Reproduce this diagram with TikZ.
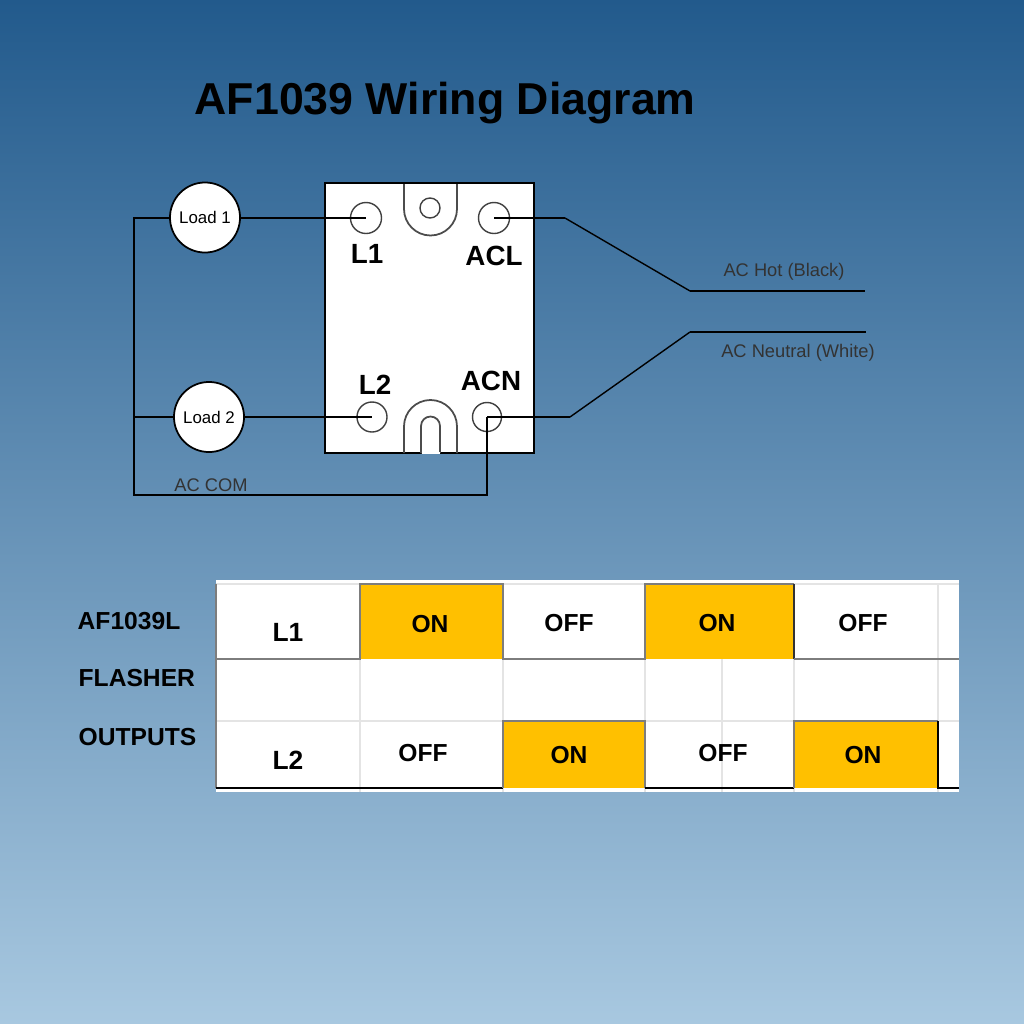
\documentclass[tikz,border=0pt]{standalone}
\usepackage{fontspec}
\setmainfont{Liberation Sans}
\usepackage{tikz}
\usetikzlibrary{calc,positioning}
\definecolor{skytop}{RGB}{34,90,140}
\definecolor{skymid}{RGB}{88,138,178}
\definecolor{skybottom}{RGB}{168,200,224}
\definecolor{myamber}{RGB}{255,192,0}
\definecolor{mygrid}{RGB}{228,228,228}
\definecolor{mystep}{RGB}{125,125,125}
\newcommand{\fsize}[1]{\fontsize{#1}{#1}\selectfont}
\tikzstyle{load}=[draw,fill=white,circle,minimum size=0.7cm,inner sep=0pt,line width=0.5pt,font=\fsize{4.8}]
\tikzstyle{terminal}=[draw=black!75,circle,inner sep=0pt,line width=0.4pt]
\tikzstyle{pin}=[font=\bfseries\fsize{7.9}]
\tikzstyle{rowname}=[font=\bfseries\fsize{7.5}]
\tikzstyle{wire}=[line width=0.55pt]
\tikzstyle{thinwire}=[line width=0.4pt]
\tikzstyle{side}=[font=\bfseries\fsize{7},anchor=west,inner sep=0pt]
\tikzstyle{state}=[font=\bfseries\fsize{7}]
\tikzstyle{oncell}=[fill=myamber,inner sep=0pt]
\tikzstyle{caption}=[font=\fsize{5.2},text=black!80]
\begin{document}
\begin{tikzpicture}[x=0.01cm,y=-0.01cm]
\shade[top color=skytop,middle color=skymid,bottom color=skybottom] (0,0) rectangle (1024,1024);
\draw (194,103) node [anchor=west,inner sep=0pt,font=\bfseries\fsize{12.7}] (title) {AF1039 Wiring Diagram};
% module
\draw (429.5,318) node [draw,fill=white,minimum width=2.09cm,minimum height=2.7cm,inner sep=0pt,line width=0.5pt] (module) {};
\draw[draw=black!70,line width=0.5pt] (404,184) -- (404,209) arc[start angle=180,end angle=0,radius=26.5] -- (457,184);
\draw (430,208) node [terminal,minimum size=0.2cm] (hole) {};
\draw[draw=black!70,line width=0.5pt] (404,453) -- (404,426.5) arc[start angle=180,end angle=360,radius=26.5] -- (457,453);
\draw[draw=black!70,line width=0.5pt,fill=white] (421,453) -- (421,426) arc[start angle=180,end angle=360,radius=9.5] -- (440,453);
\draw[white,line width=0.6pt] (421.5,453) -- (439.5,453);
\draw (366,218) node [terminal,minimum size=0.31cm] (l1) {};
\draw (494,218) node [terminal,minimum size=0.31cm] (acl) {};
\draw (372,417) node [terminal,minimum size=0.3cm] (l2) {};
\draw (487,417) node [terminal,minimum size=0.29cm] (acn) {};
\draw (367,254) node [pin] (l1text) {L1};
\draw (494,256) node [pin] (acltext) {ACL};
\draw (375,385) node [pin] (l2text) {L2};
\draw (491,381) node [pin] (acntext) {ACN};
% loads
\draw (205,217.5) node [load] (load1) {Load 1};
\draw (209,417) node [load] (load2) {Load 2};
\coordinate (busl1) at (134,218);
\coordinate (busl2) at (134,417);
\coordinate (buscom) at (134,495);
\coordinate (accom) at (487,495);
\coordinate (hot1) at (565,218);
\coordinate (hot2) at (690,291);
\coordinate (hot3) at (865,291);
\coordinate (neutral1) at (570,417);
\coordinate (neutral2) at (690,332);
\coordinate (neutral3) at (866,332);
\draw[wire] (load1.east |- l1.center) -- (l1.center);
\draw[wire] (load2.east) -- (l2.center);
\draw[wire] (load1.west |- busl1) -- (busl1) -- (buscom) -- (accom) -- (acn.center);
\draw[wire] (load2.west) -- (busl2);
\draw[wire] (acl.center) -- (hot1);
\draw[thinwire] (hot1) -- (hot2);
\draw[wire] (hot2) -- (hot3);
\draw[wire] (acn.center) -- (neutral1);
\draw[thinwire] (neutral1) -- (neutral2);
\draw[wire] (neutral2) -- (neutral3);
\draw (211,485) node [caption] (accomtext) {AC COM};
\draw (784,272) node [caption] (hottext) {AC Hot (Black)};
\draw (798,353) node [caption] (neutraltext) {AC Neutral (White)};
% table
\draw (587.5,686) node [fill=white,minimum width=7.43cm,minimum height=2.12cm,inner sep=0pt] (chart) {};
\draw (431.5,621.5) node [oncell,minimum width=1.43cm,minimum height=0.75cm] (on1) {};
\draw (719.5,621.5) node [oncell,minimum width=1.49cm,minimum height=0.75cm] (on2) {};
\draw (574,754.5) node [oncell,minimum width=1.42cm,minimum height=0.67cm] (on3) {};
\draw (866,754.5) node [oncell,minimum width=1.44cm,minimum height=0.67cm] (on4) {};
\foreach \x in {360,503,645,794,938}
  \draw[mygrid,line width=0.4pt] (\x,659) -- (\x,792);
\draw[mygrid,line width=0.4pt] (938,584) -- (938,659);
\draw[mygrid,line width=0.4pt] (722,659) -- (722,792);
\draw[mygrid,line width=0.4pt] (216,584) -- (959,584);
\draw[mygrid,line width=0.4pt] (216,721) -- (959,721);
\draw[mystep,line width=0.55pt] (216,584) -- (216,788);
\draw[mystep,line width=0.55pt] (216,659) -- (360,659) -- (360,584) -- (503,584) -- (503,659) -- (645,659) -- (645,584) -- (794,584);
\draw[black!80,line width=0.55pt] (794,584) -- (794,659);
\draw[mystep,line width=0.55pt] (794,659) -- (959,659);
\draw[black,line width=0.6pt] (216,788) -- (503,788);
\draw[mystep,line width=0.55pt] (503,788) -- (503,721) -- (645,721) -- (645,788);
\draw[black,line width=0.6pt] (645,788) -- (794,788);
\draw[mystep,line width=0.55pt] (794,788) -- (794,721) -- (938,721);
\draw[black,line width=0.6pt] (938,721) -- (938,788) -- (959,788);
\draw (288,632) node [rowname] (rowl1) {L1};
\draw (288,760) node [rowname] (rowl2) {L2};
\draw (430,624) node [state] (s1) {ON};
\draw (569,623) node [state] (s2) {OFF};
\draw (717,623) node [state] (s3) {ON};
\draw (863,623) node [state] (s4) {OFF};
\draw (423,753) node [state] (s5) {OFF};
\draw (569,755) node [state] (s6) {ON};
\draw (723,753) node [state] (s7) {OFF};
\draw (863,755) node [state] (s8) {ON};
\draw (77,621) node [side] (af) {AF1039L};
\draw (78,678) node [side] (flasher) {FLASHER};
\draw (78,737) node [side] (outputs) {OUTPUTS};
\end{tikzpicture}
\end{document}
